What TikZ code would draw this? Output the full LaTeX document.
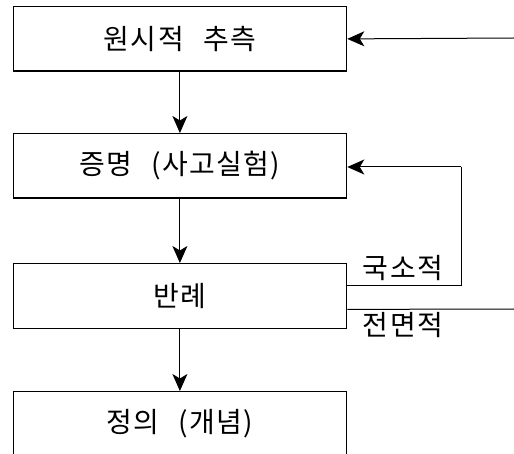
\documentclass[tikz,border=0pt]{standalone}
\usepackage{fontspec}
\setmainfont{Noto Sans CJK KR}[LetterSpace=5, WordSpace=2.5]
\usetikzlibrary{arrows.meta}
\tikzset{
  stepbox/.style={draw=black, line width=1.3pt, minimum width=333.5pt, minimum height=64.5pt, inner sep=0pt, font=\fontsize{28}{32}\selectfont, anchor=north west},
  lbl/.style={font=\fontsize{28}{32}\selectfont, inner sep=0pt},
  arr/.style={line width=1pt, -{Stealth[length=17pt, width=15pt, inset=4.5pt]}},
  ln/.style={line width=1pt}
}
\begin{document}
\begin{tikzpicture}[x=1pt, y=-1pt]
\useasboundingbox (0,0) rectangle (514,454);
\clip (0,0) rectangle (514,454);
\node[stepbox] (b1) at (12.5,6) {원시적 추측};
\node[stepbox] (b2) at (12.5,133) {증명 (사고실험)};
\node[stepbox] (b3) at (12.5,263) {반례};
\node[stepbox] (b4) at (12.5,391) {정의 (개념)};
\coordinate (inR) at (514,38);
\coordinate (fbc) at (461,167);
\coordinate (outR) at (514,309);
\draw[arr] (inR) -- (b1.east);
\draw[arr] (b1.south) -- (b2.north);
\draw[arr] (b2.south) -- (b3.north);
\draw[arr] (b3.south) -- (b4.north);
\draw[ln] ([yshift=10.5pt]b3.east) -| (fbc);
\draw[arr] (fbc) -- (fbc -| b2.east);
\draw[ln] ([yshift=-13.5pt]b3.east) -- (outR);
\node[lbl] (l1) at (403,268) {국소적};
\node[lbl] (l2) at (403,325) {전면적};
\end{tikzpicture}
\end{document}
